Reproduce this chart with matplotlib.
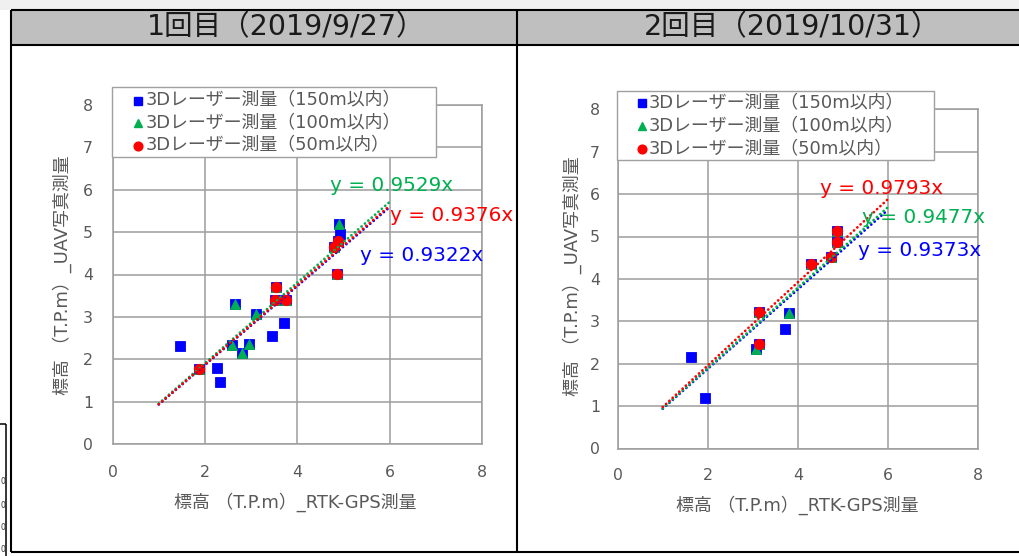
import matplotlib
matplotlib.use("Agg")
import numpy as np
import matplotlib.pyplot as plt
from matplotlib.transforms import Affine2D
from matplotlib.patches import Rectangle
from matplotlib.lines import Line2D

plt.rcParams["font.family"] = ["DejaVu Sans", "Noto Sans CJK JP"]

# ---- data -------------------------------------------------------------
titles = ["1回目（2019/9/27）", "2回目（2019/10/31）"]
series_labels = ["3Dレーザー測量（150m以内）",
                 "3Dレーザー測量（100m以内）",
                 "3Dレーザー測量（50m以内）"]
xlabel = "標高 （T.P.m）_RTK-GPS測量"
ylabel = "標高 （T.P.m）_UAV写真測量"
x_ticks = [0, 2, 4, 6, 8]
y_ticks = [0, 1, 2, 3, 4, 5, 6, 7, 8]

# 1st survey
gps1_150 = [1.46, 2.26, 2.32, 3.45, 3.72, 1.88, 2.59, 2.95, 2.80, 2.65,
            3.10, 3.53, 3.51, 3.75, 4.89, 4.92, 4.88, 4.79, 4.86]
uav1_150 = [2.31, 1.79, 1.46, 2.56, 2.85, 1.76, 2.34, 2.37, 2.14, 3.30,
            3.07, 3.70, 3.41, 3.41, 5.19, 4.95, 4.80, 4.64, 4.02]
gps1_100 = [1.88, 2.59, 2.95, 2.80, 2.65, 3.10, 3.53, 3.51, 3.75, 4.89,
            4.88, 4.79, 4.86]
uav1_100 = [1.76, 2.34, 2.37, 2.14, 3.30, 3.07, 3.70, 3.41, 3.41, 5.19,
            4.80, 4.64, 4.02]
gps1_50 = [1.88, 3.53, 3.51, 3.75, 4.88, 4.79, 4.86]
uav1_50 = [1.76, 3.70, 3.41, 3.41, 4.80, 4.64, 4.02]
slopes1 = [0.9322, 0.9529, 0.9376]

# 2nd survey
gps2_150 = [1.63, 1.93, 3.72, 3.80, 3.14, 3.07, 3.14, 4.30, 4.73, 4.88, 4.88]
uav2_150 = [2.16, 1.18, 2.81, 3.20, 3.23, 2.34, 2.46, 4.35, 4.51, 5.12, 4.86]
gps2_100 = [3.80, 3.14, 3.07, 3.14, 4.30, 4.73, 4.88, 4.88]
uav2_100 = [3.20, 3.23, 2.34, 2.46, 4.35, 4.51, 5.12, 4.86]
gps2_50 = [3.14, 3.14, 4.30, 4.73, 4.88, 4.88]
uav2_50 = [3.23, 2.46, 4.35, 4.51, 5.12, 4.86]
slopes2 = [0.9373, 0.9477, 0.9793]

trend_range = [1.0, 6.0]

# ---- styling ----------------------------------------------------------
colors = ["#0000FF", "#00B050", "#FF0000"]
markers = ["s", "^", "o"]
msizes = [7.0, 7.5, 7.5]
grid_c = "#9d9d9d"
text_c = "#595959"

W, H = 1019, 556
fig = plt.figure(figsize=(W / 100, H / 100), dpi=100)
fig.patch.set_facecolor("white")
px = Affine2D().scale(1 / W, -1 / H).translate(0, 1) + fig.transFigure


def fig_rect(x, y, w, h, fc, z=-2):
    fig.add_artist(Rectangle((x, y), w, h, fc=fc, ec="none",
                             transform=px, zorder=z))


def fig_line(xs, ys, lw=1.5, color="black", z=-1):
    fig.add_artist(Line2D(xs, ys, lw=lw, color=color, transform=px,
                          zorder=z, solid_capstyle="butt"))


# sheet frame and header row
fig_rect(0, 0, W, 9.5, "#f0f0f0")
fig_rect(11, 9.5, W, 35.5, "#bfbfbf")
fig_line([11, W], [10, 10])
fig_line([11, W], [45, 45])
fig_line([11, 11], [9.5, 552])
fig_line([517.5, 517.5], [9.5, 552])
fig_line([11, W], [551.5, 551.5])
fig_line([0, 6.5], [424, 424], lw=1.1)
fig_line([6.5, 6.5], [424, H], lw=1.1)
for yy in (482, 505, 528, 549):
    fig.text(0.5, yy, "0", transform=px, ha="left", va="center",
             fontsize=5.5, color="#333333")

fig.text(286, 27, titles[0], transform=px, ha="center", va="center",
         fontsize=20.5, color="#1a1a1a")
fig.text(792, 27, titles[1], transform=px, ha="center", va="center",
         fontsize=20.5, color="#1a1a1a")


def chart(x0, x1, y0, y8, data, slopes, eq_pos, ypad, xpad,
          legend_box, legend_rows, mk_x, txt_x, xl_pos, yl_pos):
    ax = fig.add_axes([x0 / W, 1 - y0 / H, (x1 - x0) / W, (y0 - y8) / H])
    ax.set_xlim(0, 8)
    ax.set_ylim(0, 8)
    ax.set_xticks(x_ticks)
    ax.set_yticks(y_ticks)
    ax.grid(True, color=grid_c, lw=1.1)
    ax.set_axisbelow(True)
    for s in ax.spines.values():
        s.set_color(grid_c)
        s.set_linewidth(1.1)
    ax.tick_params(length=0, labelsize=11.3, labelcolor=text_c)
    ax.tick_params(axis="y", pad=ypad)
    ax.tick_params(axis="x", pad=xpad)

    for (gx, gy), c, m, ms in zip(data, colors, markers, msizes):
        ax.plot(gx, gy, ls="none", marker=m, ms=ms, color=c,
                mec=c, mew=0.6, zorder=3)

    xs = np.array(trend_range)
    for k, (sl, c) in enumerate(zip(slopes, colors)):
        ax.plot(xs, sl * xs, color=c, lw=1.9, ls=(0, (0.1, 1.6)),
                dash_capstyle="round", zorder=4 + k)
        ex, ey = eq_pos[k]
        ax.text(ex, ey, f"y = {sl:.4f}x", color=c, fontsize=14.4,
                family="DejaVu Sans", ha="left", va="center",
                clip_on=False, zorder=8)

    # legend block
    bx0, by0, bx1, by1 = legend_box
    ax.add_artist(Rectangle((bx0, by0), bx1 - bx0, by1 - by0, fc="white",
                            ec="#a0a0a0", lw=1.0, transform=px,
                            clip_on=False, zorder=10))
    for ry, lab, c, m in zip(legend_rows, series_labels, colors, markers):
        ax.plot([mk_x], [ry], marker=m, ms=6.3, color=c, ls="none",
                transform=px, clip_on=False, zorder=11)
        ax.text(txt_x, ry, lab, transform=px, fontsize=12.9, color=text_c,
                ha="left", va="center", clip_on=False, zorder=11)

    fig.text(xl_pos[0], xl_pos[1], xlabel, transform=px, ha="center",
             va="center", fontsize=12.9, color=text_c)
    fig.text(yl_pos[0], yl_pos[1], ylabel, transform=px, ha="center",
             va="center", fontsize=12.9, color=text_c, rotation=90)
    return ax


chart(112.5, 482.3, 444, 105,
      [(gps1_150, uav1_150), (gps1_100, uav1_100), (gps1_50, uav1_50)],
      slopes1,
      [(5.35, 4.46), (4.71, 6.11), (6.0, 5.40)],
      14, 15,
      (111.7, 86.7, 435.7, 156.7), (100.7, 122.8, 145.5), 138.3, 146.0,
      (295, 502), (62, 275))

chart(617.7, 977.7, 448.5, 109.3,
      [(gps2_150, uav2_150), (gps2_100, uav2_100), (gps2_50, uav2_50)],
      slopes2,
      [(5.34, 4.68), (5.42, 5.45), (4.50, 6.14)],
      12.7, 14,
      (616.7, 91, 934.3, 160), (103.3, 126, 149), 641.7, 649.0,
      (797, 505), (572, 276))

fig.savefig("out.png", dpi=100)
